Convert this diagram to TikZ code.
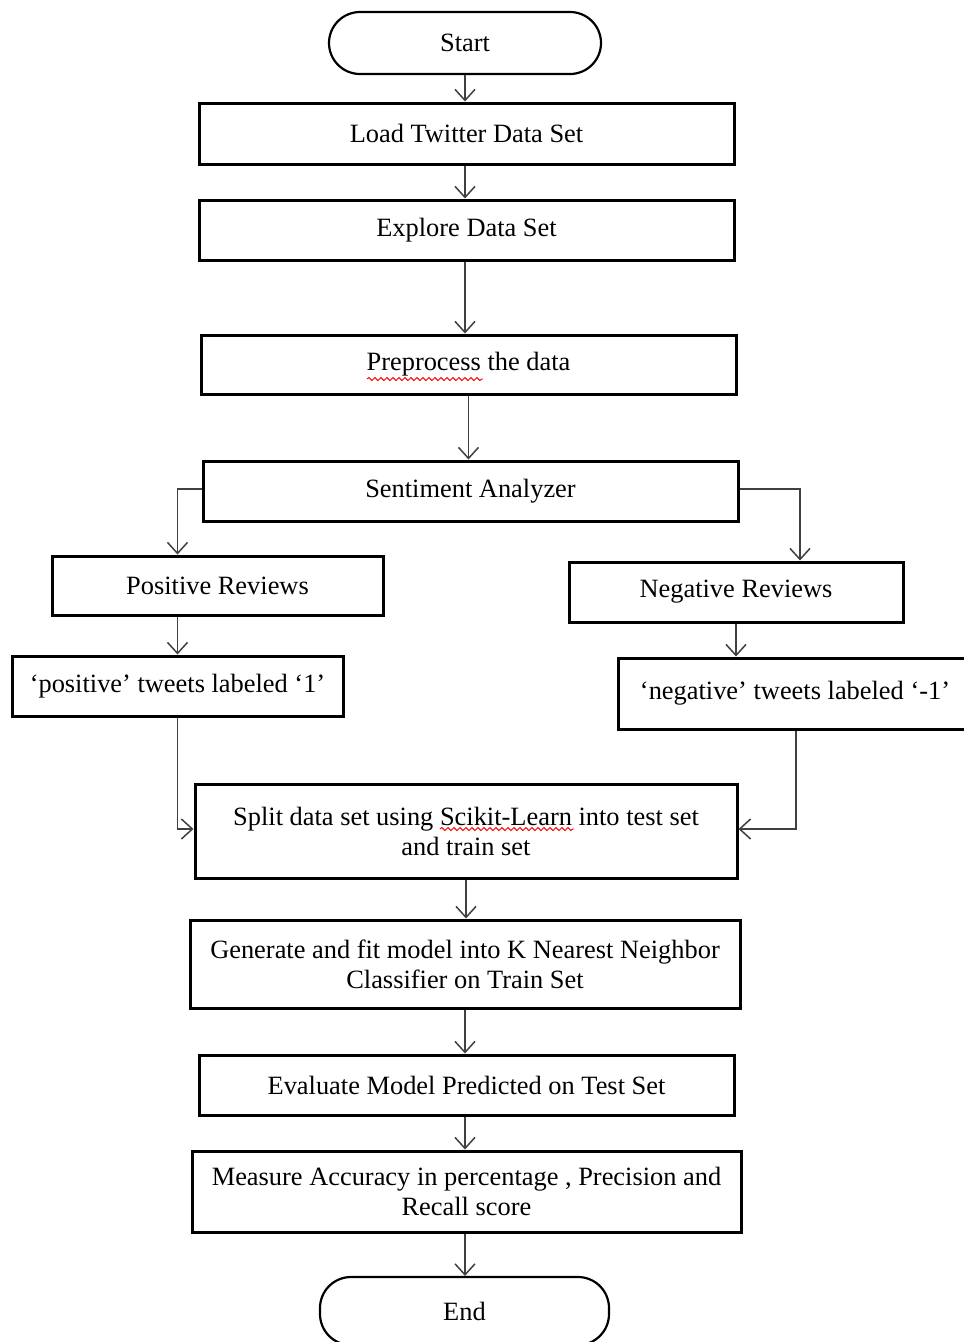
\documentclass[tikz,border=0pt]{standalone}
\usepackage{fontspec}
\setmainfont{Liberation Serif}
\usetikzlibrary{arrows.meta,decorations.pathmorphing,calc}

\begin{document}
\begin{tikzpicture}[x=1pt,y=-1pt,
  box/.style={draw=black,line width=3pt,rectangle,inner sep=0pt,align=center,
              font=\fontsize{26.4}{30}\selectfont},
  term/.style={box,line width=2.2pt,rounded corners=31pt},
  arr/.style={draw=black!75,line width=1.5pt,
              -{Straight Barb[length=11pt,width=20pt,line width=1.5pt]}},
  squig/.style={draw=red,line width=0.9pt,decorate,
                decoration={snake,amplitude=1.5pt,segment length=6pt}}]

\useasboundingbox (0,0) rectangle (964,1342);
\fill[white] (0,0) rectangle (964,1342);
\clip (0,0) rectangle (964,1342);

% process steps
\node[term,minimum width=272pt,minimum height=62pt] (start) at (465,43) {Start};
\node[box,minimum width=535pt,minimum height=61pt] (load) at (466.5,133.5) {Load Twitter Data Set};
\node[box,minimum width=535pt,minimum height=60pt] (explore) at (466.5,230) {Explore Data Set};
\node[box,minimum width=535pt,minimum height=59pt] (prep) at (468.5,364.5) {Preprocess the data};
\node[box,minimum width=535pt,minimum height=60pt] (sent) at (470.5,491) {Sentiment Analyzer};
\node[box,minimum width=331pt,minimum height=59pt] (pos) at (217.5,585.5) {Positive Reviews};
\node[box,minimum width=334pt,minimum height=60pt] (neg) at (736,592) {Negative Reviews};
\node[box,minimum width=331pt,minimum height=60pt] (post) at (177.5,686) {‘positive’ tweets labeled ‘1’};
\node[box,minimum width=354pt,minimum height=71pt] (negt) at (795,693.5) {‘negative’ tweets labeled ‘-1’};
\node[box,minimum width=542pt,minimum height=94pt] (split) at (466,831)
  {Split data set using Scikit-Learn into test set\\and train set};
\node[box,minimum width=550pt,minimum height=88pt] (gen) at (465,964)
  {Generate and fit model into K Nearest Neighbor\\Classifier on Train Set};
\node[box,minimum width=535pt,minimum height=60pt] (eval) at (466.5,1085) {Evaluate Model Predicted on Test Set};
\node[box,minimum width=549pt,minimum height=81pt] (meas) at (466.5,1191.5)
  {Measure Accuracy in percentage , Precision and\\Recall score};
\node[term,minimum width=289pt,minimum height=68pt] (end) at (464.5,1311) {End};

% spell-check marks
\draw[squig] (367,379) -- (483,379);
\draw[squig] (440,829) -- (574,829);

% connectors
\draw[arr] (start.south) -- (start.south |- load.north);
\draw[arr] (start.south |- load.south) -- (start.south |- explore.north);
\draw[arr] (start.south |- explore.south) -- (start.south |- prep.north);
\draw[arr] (prep.south) -- (prep.south |- sent.north);
\draw[arr] ($(sent.west)+(0,-2)$) -| (pos.north -| post.north);
\draw[arr] ($(sent.east)+(0,-2)$) -| ($(neg.north -| negt.north)+(5,0)$);
\draw[arr] (pos.south -| post.north) -- (post.north);
\draw[arr] (neg.south) -- (neg.south |- negt.north);
\draw[arr] (post.south) |- ($(split.west)+(0,-2)$);
\draw[arr] ($(negt.south)+(1,0)$) |- ($(split.east)+(0,-2)$);
\draw[arr] (split.south) -- (split.south |- gen.north);
\draw[arr] (gen.south) -- (gen.south |- eval.north);
\draw[arr] (start.south |- eval.south) -- (start.south |- meas.north);
\draw[arr] (start.south |- meas.south) -- (start.south |- end.north);
\end{tikzpicture}
\end{document}
